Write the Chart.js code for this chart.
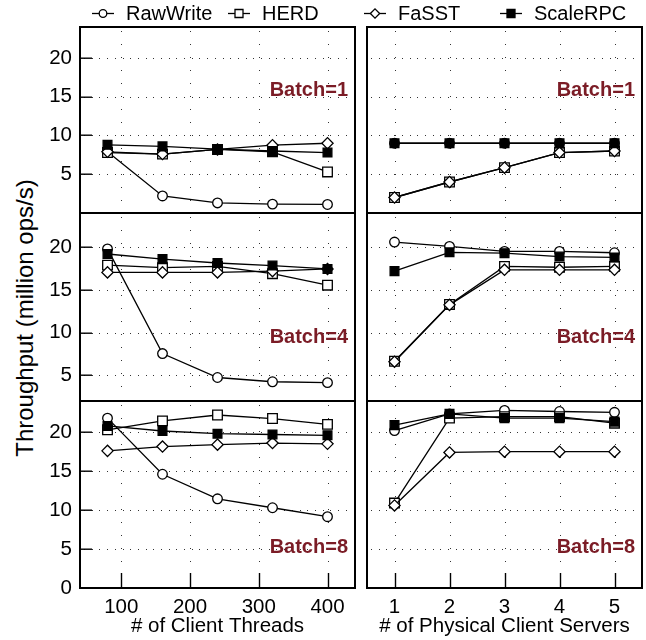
<!DOCTYPE html>
<html>
<head>
<meta charset="utf-8">
<script src="https://cdn.jsdelivr.net/npm/chart.js@4.4.1/dist/chart.umd.min.js"></script>
<style>
  body { margin: 0; background: #fff; font-family: "Liberation Sans", Arial, sans-serif; }
  #wrap { position: relative; width: 646px; height: 640px; overflow: hidden; }
  .panel { position: absolute; }
  .lg { position: absolute; top: 0; height: 26px; display: flex; align-items: center; font-size: 20px; color: #000; }
  .lg canvas { margin-right: 12px; }
  #ytitle { position: absolute; left: 25px; top: 318px; transform: translate(-50%, -50%) rotate(-90deg);
            white-space: nowrap; font-size: 24px; color: #000; }
</style>
</head>
<body>
<div id="wrap">
  <div id="ytitle">Throughput (million ops/s)</div>
</div>
<script>
// series + axes
const seriesNames = ['RawWrite', 'HERD', 'FaSST', 'ScaleRPC'];
const threadCounts = [80, 160, 240, 320, 400];
const serverCounts = [1, 2, 3, 4, 5];
const threadTicks = [100, 200, 300, 400];
const serverTicks = [1, 2, 3, 4, 5];
const yTickValues = [5, 10, 15, 20];
const yTickValuesBottom = [0, 5, 10, 15, 20];
const batchNames = ['Batch=1', 'Batch=4', 'Batch=8'];
const xTitles = ['# of Client Threads', '# of Physical Client Servers'];

// Batch=1
const rawT1 = [7.9, 2.2, 1.3, 1.15, 1.1];
const herdT1 = [7.8, 7.6, 8.2, 7.9, 5.3];
const fasstT1 = [7.9, 7.6, 8.2, 8.75, 9.0];
const scaleT1 = [8.8, 8.6, 8.25, 8.0, 7.8];
const rawS1 = [9.0, 9.0, 9.0, 9.0, 9.0];
const herdS1 = [2.0, 4.0, 5.85, 7.8, 8.0];
const fasstS1 = [2.0, 4.0, 5.85, 7.8, 8.0];
const scaleS1 = [9.0, 9.0, 9.0, 9.0, 9.0];

// Batch=4
const rawT4 = [19.8, 7.55, 4.75, 4.25, 4.15];
const herdT4 = [17.9, 17.6, 17.75, 16.9, 15.55];
const fasstT4 = [17.05, 17.05, 17.05, 17.2, 17.45];
const scaleT4 = [19.2, 18.6, 18.15, 17.85, 17.45];
const rawS4 = [20.6, 20.1, 19.5, 19.5, 19.35];
const herdS4 = [6.65, 13.3, 17.75, 17.65, 17.75];
const fasstS4 = [6.6, 13.25, 17.35, 17.35, 17.35];
const scaleS4 = [17.2, 19.4, 19.3, 18.9, 18.8];

// Batch=8
const rawT8 = [21.8, 14.6, 11.45, 10.3, 9.15];
const herdT8 = [20.3, 21.45, 22.2, 21.75, 21.0];
const fasstT8 = [17.6, 18.15, 18.4, 18.6, 18.5];
const scaleT8 = [20.8, 20.15, 19.8, 19.7, 19.6];
const rawS8 = [20.2, 22.35, 22.8, 22.65, 22.55];
const herdS8 = [10.9, 21.8, 22.0, 22.0, 21.15];
const fasstS8 = [10.6, 17.4, 17.5, 17.5, 17.5];
const scaleS8 = [20.9, 22.35, 21.8, 21.8, 21.35];

const panelData = [
  [[rawT1, herdT1, fasstT1, scaleT1], [rawS1, herdS1, fasstS1, scaleS1]],
  [[rawT4, herdT4, fasstT4, scaleT4], [rawS4, herdS4, fasstS4, scaleS4]],
  [[rawT8, herdT8, fasstT8, scaleT8], [rawS8, herdS8, fasstS8, scaleS8]]
];

// marker look per series
const markers = [
  { style: 'circle', radius: 4.8, fill: '#fff' },
  { style: 'rect', radius: 6.8, fill: '#fff' },
  { style: 'rectRot', radius: 5.6, fill: '#fff' },
  { style: 'rect', radius: 6.2, fill: '#000' }
];

// layout of the grid of panels
const rowBox = [
  { top: 18, height: 197, padTop: 9, padBottom: 2, yMin: 0 },
  { top: 211, height: 192, padTop: 2, padBottom: 2, yMin: 2 },
  { top: 399, height: 241, padTop: 2, padBottom: 0, yMin: 0 }
];
const colBox = [
  { left: 0, width: 358, padLeft: 0, padRight: 3, yWidth: 80, xMin: 40, xMax: 440 },
  { left: 362, width: 284, padLeft: 5, padRight: 4, yWidth: 0, xMin: 0.5, xMax: 5.5 }
];
const labelPos = [0.339, 0.662, 0.783];

Chart.defaults.font.family = '"Liberation Sans", Arial, sans-serif';
Chart.defaults.color = '#000';

// dotted grid, inside tick marks, the box and the batch label
const framePlugin = {
  id: 'frame',
  beforeDatasetsDraw(chart) {
    const { ctx, chartArea: a, scales } = chart;
    ctx.save();
    ctx.fillStyle = '#333';
    scales.y.ticks.forEach(t => {
      const py = Math.round(scales.y.getPixelForValue(t.value));
      if (py <= a.top + 1 || py >= a.bottom - 1) return;
      for (let x = a.left + 4; x < a.right - 2; x += 7.7) ctx.fillRect(Math.round(x), py, 1, 1);
    });
    scales.x.ticks.forEach(t => {
      const px = Math.round(scales.x.getPixelForValue(t.value));
      for (let y = a.top + 4; y < a.bottom - 2; y += 13) ctx.fillRect(px, Math.round(y), 1, 1);
    });
    ctx.restore();
  },
  afterDraw(chart, args, opts) {
    const { ctx, chartArea: a, scales } = chart;
    ctx.save();
    ctx.fillStyle = '#000';
    if (opts.yMarks) {
      scales.y.ticks.forEach(t => {
        const py = Math.round(scales.y.getPixelForValue(t.value));
        ctx.fillRect(a.left, py - 0.5, 12, 1.4);
      });
    }
    if (opts.xMarks) {
      scales.x.ticks.forEach(t => {
        const px = Math.round(scales.x.getPixelForValue(t.value));
        ctx.fillRect(px - 0.2, a.bottom - 15, 1.4, 15);
      });
    }
    ctx.strokeStyle = '#000';
    ctx.lineWidth = 2;
    ctx.strokeRect(a.left, a.top, a.right - a.left, a.bottom - a.top);
    ctx.font = 'bold 20px "Liberation Sans", Arial, sans-serif';
    ctx.fillStyle = '#7b1c26';
    ctx.textAlign = 'right';
    ctx.textBaseline = 'middle';
    ctx.fillText(opts.label, a.right - 7, a.top + opts.labelPos * (a.bottom - a.top));
    ctx.restore();
  }
};

// kill the automatic label padding so the plot boxes sit where the layout says
function noPad(s) {
  s.paddingTop = 0;
  s.paddingBottom = 0;
  s.paddingLeft = 0;
  s.paddingRight = 0;
}

function makePanel(row, col) {
  const rb = rowBox[row];
  const cb = colBox[col];
  const isBottom = row === 2;
  const xs = col === 0 ? threadCounts : serverCounts;
  const xt = col === 0 ? threadTicks : serverTicks;
  const yt = isBottom ? yTickValuesBottom : yTickValues;

  const div = document.createElement('div');
  div.className = 'panel';
  div.style.left = cb.left + 'px';
  div.style.top = rb.top + 'px';
  const canvas = document.createElement('canvas');
  canvas.width = cb.width;
  canvas.height = rb.height;
  div.appendChild(canvas);
  document.getElementById('wrap').appendChild(div);

  const datasets = seriesNames.map((name, i) => ({
    label: name,
    data: xs.map((x, j) => ({ x: x, y: panelData[row][col][i][j] })),
    borderColor: '#000',
    borderWidth: 1.3,
    backgroundColor: markers[i].fill,
    pointStyle: markers[i].style,
    pointRadius: markers[i].radius,
    pointBackgroundColor: markers[i].fill,
    pointBorderColor: '#000',
    pointBorderWidth: 1.3,
    fill: false,
    tension: 0,
    order: 4 - i
  }));

  new Chart(canvas, {
    type: 'line',
    data: { datasets: datasets },
    options: {
      responsive: false,
      animation: false,
      clip: false,
      layout: {
        autoPadding: false,
        padding: { top: rb.padTop, bottom: rb.padBottom, left: cb.padLeft, right: cb.padRight }
      },
      plugins: {
        legend: { display: false },
        tooltip: { enabled: false },
        frame: { label: batchNames[row], labelPos: labelPos[row], yMarks: col === 0, xMarks: isBottom }
      },
      scales: {
        x: {
          type: 'linear',
          min: cb.xMin,
          max: cb.xMax,
          afterBuildTicks: s => { s.ticks = xt.map(v => ({ value: v })); },
          afterFit: s => { s.height = isBottom ? 52 : 0; noPad(s); },
          border: { display: false },
          grid: { display: false, drawTicks: false },
          ticks: { display: isBottom, padding: 7, font: { size: 20.5 }, color: '#000', maxRotation: 0 },
          title: {
            display: isBottom,
            text: xTitles[col],
            font: { size: 20.5 },
            color: '#000',
            padding: { top: 0, bottom: 1 }
          }
        },
        y: {
          type: 'linear',
          min: rb.yMin,
          max: 24,
          afterBuildTicks: s => { s.ticks = yt.map(v => ({ value: v })); },
          afterFit: s => { s.width = cb.yWidth; noPad(s); },
          border: { display: false },
          grid: { display: false, drawTicks: false },
          ticks: { display: col === 0, padding: 8, font: { size: 20.5 }, color: '#000' }
        }
      }
    },
    plugins: [framePlugin]
  });
}

for (let r = 0; r < 3; r++) {
  for (let c = 0; c < 2; c++) makePanel(r, c);
}

// legend across the top
function drawLegendIcon(canvas, m) {
  const ctx = canvas.getContext('2d');
  const cy = 13.5;
  ctx.strokeStyle = '#000';
  ctx.lineWidth = 1.3;
  ctx.beginPath();
  ctx.moveTo(0, cy);
  ctx.lineTo(22, cy);
  ctx.stroke();
  ctx.fillStyle = m.fill;
  ctx.beginPath();
  const cx = 11;
  if (m.style === 'circle') {
    ctx.arc(cx, cy, 3.8, 0, Math.PI * 2);
  } else if (m.style === 'rect') {
    ctx.rect(cx - 4, cy - 4, 8, 8);
  } else {
    ctx.moveTo(cx - 4.6, cy);
    ctx.lineTo(cx, cy - 4.6);
    ctx.lineTo(cx + 4.6, cy);
    ctx.lineTo(cx, cy + 4.6);
    ctx.closePath();
  }
  ctx.fill();
  ctx.stroke();
}

seriesNames.forEach((name, i) => {
  const item = document.createElement('div');
  item.className = 'lg';
  item.style.left = (92 + i * 136) + 'px';
  const icon = document.createElement('canvas');
  icon.width = 22;
  icon.height = 26;
  drawLegendIcon(icon, markers[i]);
  const span = document.createElement('span');
  span.textContent = name;
  item.appendChild(icon);
  item.appendChild(span);
  document.getElementById('wrap').appendChild(item);
});
</script>
</body>
</html>
